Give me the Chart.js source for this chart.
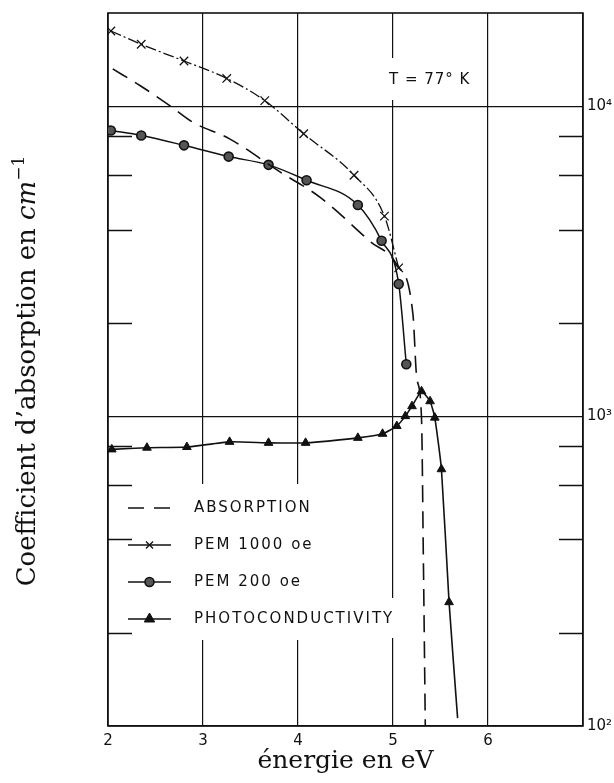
<!DOCTYPE html>
<html>
<head>
<meta charset="utf-8">
<script src="https://cdn.jsdelivr.net/npm/chart.js@4.4.1/dist/chart.umd.min.js"></script>
<style>
  html, body { margin: 0; padding: 0; background: #fff; }
  canvas { display: block; }
</style>
</head>
<body>
<canvas id="absorptionChart" width="614" height="783"></canvas>
<script>
// values (energy in eV, coefficient in cm^-1)
const absorptionX = [2.05, 2.34, 2.65, 2.89, 3.28, 3.81, 4.23, 4.76, 5.04, 5.21, 5.25, 5.30, 5.32, 5.34];
const absorptionY = [13200, 11650, 10050, 8890, 7850, 6140, 5090, 3660, 3080, 2130, 1330, 990, 340, 100];

const pem1000X = [2.03, 2.35, 2.80, 3.25, 3.65, 4.06, 4.59, 4.91, 5.06];
const pem1000Y = [17500, 15850, 14000, 12300, 10430, 8150, 5990, 4420, 3010];

const pem200X = [2.03, 2.35, 2.80, 3.27, 3.69, 4.09, 4.63, 4.88, 5.06, 5.14];
const pem200Y = [8350, 8050, 7480, 6880, 6470, 5770, 4800, 3680, 2670, 1470];

const photoX = [2.04, 2.41, 2.83, 3.28, 3.69, 4.08, 4.63, 4.89, 5.04, 5.13, 5.20, 5.30, 5.39, 5.44, 5.51, 5.59, 5.68];
const photoY = [781, 791, 795, 826, 820, 820, 851, 877, 929, 1000, 1077, 1203, 1117, 989, 674, 251, 106];
// the photoconductivity curve runs on to the axis without a symbol at its end
const photoMarked = photoX.map((_, i) => i < photoX.length - 1);

const seriesLabels = ['ABSORPTION', 'PEM 1000 oe', 'PEM 200 oe', 'PHOTOCONDUCTIVITY'];

const xTickValues = [2, 3, 4, 5, 6];
const yTickValues = [100, 1000, 10000];
const yTickLabels = ['10²', '10³', '10⁴'];
const yMinorTicks = [200, 400, 600, 800, 2000, 4000, 6000, 8000];

const tempLabel = 'T = 77° K';
const xTitle = 'énergie en eV';
const yTitleParts = [
  { text: 'Coefficient d\u2019absorption en ', style: 'normal' },
  { text: 'cm', style: 'italic' },
  { text: '\u22121', style: 'sup' },
];

const toPoints = (xs, ys) => xs.map((x, i) => ({ x, y: ys[i] }));
const ink = '#111';
const serif = '"DejaVu Serif", serif';
const sans = '"DejaVu Sans", sans-serif';

const figurePlugin = {
  id: 'figure',
  beforeDatasetsDraw(chart) {
    const { ctx, chartArea: a, scales } = chart;
    const y = scales.y;
    ctx.save();
    // white patches where the printed grid is interrupted by the lettering
    ctx.fillStyle = '#fff';
    ctx.fillRect(384, 58, 88, 42);
    ctx.fillRect(136, 484, 256, 156);
    ctx.fillRect(136, 598, 266, 40);

    // frame
    ctx.strokeStyle = ink;
    ctx.lineWidth = 1.6;
    ctx.strokeRect(a.left, a.top, a.right - a.left, a.bottom - a.top);

    // inner minor ticks on both sides
    ctx.lineWidth = 1.3;
    ctx.beginPath();
    yMinorTicks.forEach(v => {
      const py = Math.round(y.getPixelForValue(v)) + 0.5;
      ctx.moveTo(a.left, py);
      ctx.lineTo(a.left + 24, py);
      ctx.moveTo(a.right, py);
      ctx.lineTo(a.right - 24, py);
    });
    ctx.stroke();
    ctx.restore();
  },
  afterDraw(chart) {
    const { ctx } = chart;
    ctx.save();
    ctx.fillStyle = ink;
    ctx.strokeStyle = ink;

    // temperature note
    ctx.font = '15px ' + sans;
    ctx.letterSpacing = '1px';
    ctx.textBaseline = 'middle';
    ctx.textAlign = 'left';
    ctx.fillText(tempLabel, 389, 80);

    // legend, drawn from the datasets' own styles
    const sx0 = 128, sx1 = 171, tx = 194;
    chart.data.datasets.forEach((ds, i) => {
      const ry = 508 + i * 37;
      ctx.lineWidth = ds.borderWidth;
      ctx.setLineDash(i === 0 ? [16, 10] : []);
      ctx.beginPath();
      ctx.moveTo(sx0, ry);
      ctx.lineTo(sx1, ry);
      ctx.stroke();
      ctx.setLineDash([]);
      if (ds.pointStyle) {
        ctx.fillStyle = ds.pointBackgroundColor || ink;
        ctx.lineWidth = ds.pointBorderWidth || 1;
        Chart.helpers.drawPoint(ctx, {
          pointStyle: ds.pointStyle,
          radius: ds.legendRadius,
          borderWidth: ds.pointBorderWidth || 1,
          rotation: 0,
        }, (sx0 + sx1) / 2, ry);
      }
      ctx.fillStyle = ink;
      ctx.font = '15px ' + sans;
      ctx.letterSpacing = '2px';
      ctx.fillText(ds.label, tx, ry);
    });

    // rotated y title with italic unit and superscript
    ctx.letterSpacing = '0px';
    ctx.translate(26, 371);
    ctx.rotate(-Math.PI / 2);
    const fonts = {
      normal: '26px ' + serif,
      italic: 'italic 26px ' + serif,
      sup: '17px ' + serif,
    };
    let total = 0;
    yTitleParts.forEach(p => { ctx.font = fonts[p.style]; total += ctx.measureText(p.text).width; });
    let cx = -total / 2;
    ctx.textAlign = 'left';
    ctx.textBaseline = 'alphabetic';
    yTitleParts.forEach(p => {
      ctx.font = fonts[p.style];
      ctx.fillText(p.text, cx, p.style === 'sup' ? -2 : 9);
      cx += ctx.measureText(p.text).width;
    });
    ctx.restore();
  },
};

new Chart(document.getElementById('absorptionChart'), {
  type: 'scatter',
  data: {
    datasets: [
      {
        label: seriesLabels[0],
        data: toPoints(absorptionX, absorptionY),
        showLine: true,
        borderColor: ink,
        borderWidth: 1.6,
        borderDash: [17, 9],
        pointRadius: 0,
        cubicInterpolationMode: 'monotone',
      },
      {
        label: seriesLabels[1],
        data: toPoints(pem1000X, pem1000Y),
        showLine: true,
        borderColor: ink,
        borderWidth: 1.3,
        borderDash: [11, 3, 2, 3],
        pointStyle: 'crossRot',
        pointRadius: 6,
        legendRadius: 5,
        pointBorderWidth: 1.3,
        pointBorderColor: ink,
        pointBackgroundColor: ink,
        cubicInterpolationMode: 'monotone',
      },
      {
        label: seriesLabels[2],
        data: toPoints(pem200X, pem200Y),
        showLine: true,
        borderColor: ink,
        borderWidth: 1.5,
        pointStyle: 'circle',
        pointRadius: 4.5,
        legendRadius: 4.5,
        pointBorderWidth: 1.6,
        pointBorderColor: ink,
        pointBackgroundColor: '#555',
        cubicInterpolationMode: 'monotone',
      },
      {
        label: seriesLabels[3],
        data: toPoints(photoX, photoY),
        showLine: true,
        borderColor: ink,
        borderWidth: 1.6,
        pointStyle: 'triangle',
        pointRadius: photoMarked.map(m => (m ? 5 : 0)),
        legendRadius: 6,
        pointBorderWidth: 1,
        pointBorderColor: ink,
        pointBackgroundColor: ink,
        tension: 0.15,
      },
    ],
  },
  options: {
    responsive: false,
    animation: false,
    layout: { padding: { left: 108, top: 12, right: 0, bottom: 0 } },
    plugins: {
      legend: { display: false },
      tooltip: { enabled: false },
    },
    scales: {
      x: {
        type: 'linear',
        min: 2,
        max: 7,
        afterBuildTicks: scale => { scale.ticks = [...xTickValues, 7].map(value => ({ value })); },
        afterFit: scale => { scale.height = 57; },
        ticks: {
          autoSkip: false,
          maxRotation: 0,
          padding: 6,
          color: ink,
          font: { family: sans, size: 15 },
          callback: v => (xTickValues.includes(v) ? String(v) : ''),
        },
        grid: { color: ink, lineWidth: 1.2, drawTicks: false },
        border: { display: false },
        title: {
          display: true,
          text: xTitle,
          color: ink,
          font: { family: serif, size: 25 },
          padding: { top: 0, bottom: 7 },
        },
      },
      y: {
        type: 'logarithmic',
        position: 'right',
        min: 100,
        max: 20000,
        afterBuildTicks: scale => { scale.ticks = yTickValues.map(value => ({ value })); },
        afterFit: scale => { scale.width = 31; },
        ticks: {
          padding: 4,
          color: ink,
          font: { family: sans, size: 15 },
          callback: v => yTickLabels[yTickValues.indexOf(v)] || '',
        },
        grid: { color: ink, lineWidth: 1.2, drawTicks: false },
        border: { display: false },
      },
    },
  },
  plugins: [figurePlugin],
});
</script>
</body>
</html>
